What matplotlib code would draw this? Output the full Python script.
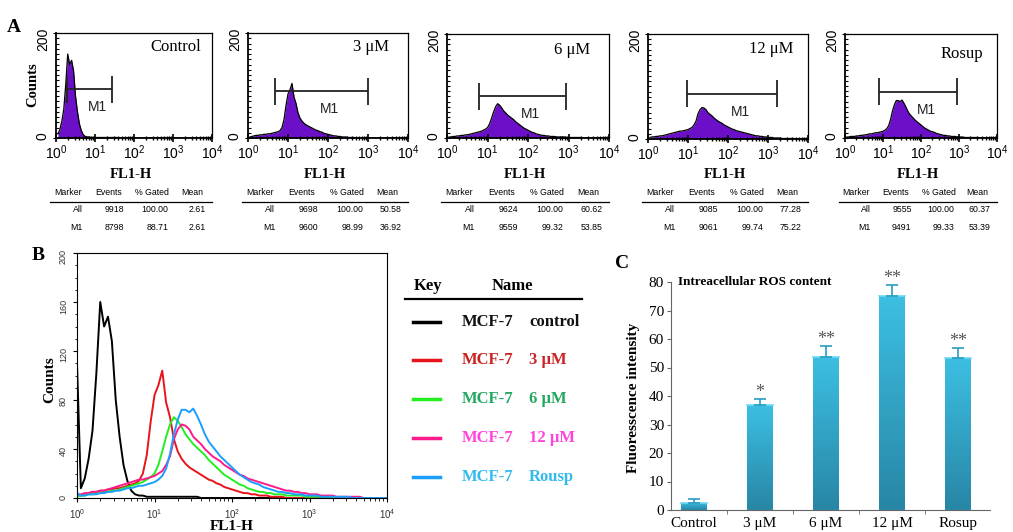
import numpy as np
import matplotlib
matplotlib.use('Agg')
import matplotlib.pyplot as plt
import matplotlib.ticker as tik
from matplotlib.lines import Line2D
from matplotlib.colors import LinearSegmentedColormap

plt.rcParams['font.family'] = 'Liberation Sans'
plt.rcParams['mathtext.fontset'] = 'custom'
plt.rcParams['mathtext.rm'] = 'Liberation Sans'
plt.rcParams['mathtext.it'] = 'Liberation Sans:italic'
plt.rcParams['mathtext.bf'] = 'Liberation Sans:bold'
SERIF = 'Liberation Serif'

#### data
# FL1-H channel position (decades), 0.05 decade steps
channel_log = np.linspace(0, 4, 81)

hist_control = [110, 8, 16, 32, 55, 102, 160, 140, 148, 128,
                80, 50, 27, 14, 6, 3, 2, 2, 1, 1,
                1, 1, 1, 1, 1, 1, 1, 1, 1, 1,
                1, 1, 0, 0, 0, 0, 0, 0, 0, 0,
                0, 0, 0, 0, 0, 0, 0, 0, 0, 0,
                0, 0, 0, 0, 0, 0, 0, 0, 0, 0,
                0, 0, 0, 0, 0, 0, 0, 0, 0, 0,
                0, 0, 0, 0, 0, 0, 0, 0, 0, 0,
                0]
hist_3um = [2, 2, 3, 4, 5, 5, 6, 6, 7, 7,
            8, 8, 9, 10, 11, 12, 14, 20, 35, 62,
            84, 92, 104, 78, 66, 48, 38, 32, 28, 25,
            23, 21, 19, 17, 15, 14, 12, 11, 9, 8,
            7, 6, 5, 4, 4, 3, 3, 2, 2, 2,
            1, 1, 1, 1, 0, 0, 0, 0, 0, 0,
            0, 0, 0, 0, 0, 0, 0, 0, 0, 0,
            0, 0, 0, 0, 0, 0, 0, 0, 0, 0,
            0]
hist_6um = [1, 2, 2, 3, 3, 4, 4, 5, 5, 6,
            6, 7, 8, 9, 10, 11, 12, 13, 15, 17,
            20, 27, 38, 50, 60, 66, 63, 58, 52, 48,
            44, 41, 38, 35, 31, 28, 25, 22, 19, 17,
            15, 13, 11, 10, 8, 7, 6, 5, 5, 4,
            4, 3, 3, 3, 2, 2, 2, 2, 2, 1,
            1, 1, 1, 1, 1, 1, 1, 0, 0, 0,
            0, 0, 0, 0, 0, 0, 0, 0, 0, 0,
            0]
hist_12um = [3, 3, 4, 4, 5, 5, 6, 6, 7, 8,
             9, 10, 11, 12, 13, 14, 15, 15, 16, 17,
             18, 20, 22, 27, 34, 48, 56, 60, 59, 56,
             50, 47, 44, 40, 37, 34, 32, 30, 27, 25,
             23, 21, 19, 18, 16, 15, 14, 13, 12, 11,
             10, 9, 8, 7, 6, 6, 5, 5, 4, 4,
             3, 3, 3, 2, 2, 2, 2, 1, 1, 1,
             1, 1, 1, 1, 0, 0, 0, 0, 0, 0,
             0]
hist_rosup = [4, 2, 2, 3, 3, 3, 4, 4, 5, 5,
              6, 6, 7, 8, 8, 9, 10, 10, 11, 12,
              13, 15, 18, 24, 36, 52, 64, 72, 72, 70,
              73, 67, 60, 52, 46, 42, 38, 34, 31, 28,
              25, 22, 19, 17, 15, 13, 12, 11, 9, 8,
              7, 6, 5, 5, 4, 4, 3, 3, 3, 2,
              2, 2, 2, 1, 1, 1, 1, 1, 1, 1,
              1, 0, 0, 0, 0, 0, 0, 0, 0, 0,
              0]

panel_names = ["Control", "3 \u03bcM", "6 \u03bcM", "12 \u03bcM", "Rosup"]
legend_names = ["control", "3 \u03bcM", "6 \u03bcM", "12 \u03bcM", "Rousp"]

# M1 gate (FL1-H) and height (counts)
gate_lo = [1.9, 4.7, 6.0, 9.5, 7.8]
gate_hi = [27.5, 1000, 890, 1660, 870]
gate_y = [93, 89, 80, 86, 89]

# statistics tables
events_all = ["9918", "9698", "9624", "9085", "9555"]
gated_all = ["100.00", "100.00", "100.00", "100.00", "100.00"]
mean_all = ["2.61", "50.58", "60.62", "77.28", "60.37"]
events_m1 = ["8798", "9600", "9559", "9061", "9491"]
gated_m1 = ["88.71", "98.99", "99.32", "99.74", "99.33"]
mean_m1 = ["2.61", "36.92", "53.85", "75.22", "53.39"]

# panel C
ros_labels = ["Control", "3 \u03bcM", "6 \u03bcM", "12 \u03bcM", "Rosup"]
ros_mean = [2.61, 36.92, 53.85, 75.22, 53.39]
ros_err = [1.2, 2.0, 3.6, 3.6, 3.4]
ros_sig = ["", "*", "**", "**", "**"]

hists = [hist_control, hist_3um, hist_6um, hist_12um, hist_rosup]
line_colors = ["#000000", "#e8141c", "#22ee22", "#ff1a8c", "#1a9fff"]
text_colors = ["#111111", "#cc2222", "#22a860", "#ff44dd", "#33bbee"]
decades = [1, 10, 100, 1000, 10000]

W, H = 1013, 532
def px(x0, y0, x1, y1):
    return [x0 / W, 1 - y1 / H, (x1 - x0) / W, (y1 - y0) / H]
def fx(x):
    return x / W
def fy(y):
    return 1 - y / H

fig = plt.figure(figsize=(W / 100, H / 100), dpi=100)

#### panel A
a_boxes = [(56, 33, 212, 138), (248, 33, 408, 138), (447, 34, 609, 138),
           (648, 34, 808, 139), (845, 34, 997, 138)]
label_y = [0.87, 0.87, 0.85, 0.86, 0.81]
purple = "#6b10c8"
x_all = 10 ** channel_log
for i, box in enumerate(a_boxes):
    ax = fig.add_axes(px(*box))
    y = np.array(hists[i][1:], dtype=float)
    x = x_all[1:]
    ax.fill_between(x, y, color=purple, lw=0, zorder=1)
    ax.plot(x, y, color='black', lw=0.9, zorder=2)
    ax.set_xscale('log')
    ax.set_xlim(1, 1e4)
    ax.set_ylim(0, 200)
    ax.set_xticks(decades)
    ax.xaxis.set_minor_locator(tik.LogLocator(base=10, subs=np.arange(2, 10), numticks=20))
    ax.xaxis.set_minor_formatter(tik.NullFormatter())
    ax.set_yticks([0, 200])
    ax.yaxis.set_minor_locator(tik.MultipleLocator(10))
    ax.tick_params(axis='y', which='major', labelrotation=90, labelsize=10,
                   direction='inout', length=5, pad=2)
    ax.tick_params(axis='y', which='minor', direction='in', length=2.5, width=0.8)
    ax.tick_params(axis='x', which='major', direction='inout', length=6,
                   width=1.2, labelsize=10, pad=1)
    ax.tick_params(axis='x', which='minor', direction='inout', length=3.5, width=1)
    for s in ['left', 'bottom']:
        ax.spines[s].set_linewidth(1.3)
    for s in ['top', 'right']:
        ax.spines[s].set_linewidth(0.9)
    ax.text(0.77, label_y[i], panel_names[i], transform=ax.transAxes,
            family=SERIF, size=12, ha='center', va='center')
    # gate
    lo, hi, gy = gate_lo[i], gate_hi[i], gate_y[i]
    ax.hlines(gy, lo, hi, color='#222222', lw=1.3, zorder=3)
    ax.vlines([lo, hi], gy - 26, gy + 26, color='#222222', lw=1.3, zorder=3)
    ax.annotate('M1', xy=(np.sqrt(lo * hi), gy), xytext=(6, -13),
                textcoords='offset points', ha='center', va='center',
                size=10, color='#222222', zorder=4)
    # x label
    x0, y0, x1, y1 = box
    fig.text(fx((x0 + x1) / 2 - 3), fy(175), 'FL1-H', family=SERIF,
             weight='bold', size=10.5, ha='center', va='center')
    # table
    t0, t1 = x0 - 6, x1
    tw = t1 - t0
    for frac, head in zip([0.11, 0.36, 0.63, 0.875],
                          ["Marker", "Events", "% Gated", "Mean"]):
        fig.text(fx(t0 + frac * tw), fy(193), head, size=6.3,
                 ha='center', va='center')
    fig.add_artist(Line2D([fx(t0), fx(t1)], [fy(202), fy(202)],
                          color='black', lw=0.9))
    rows = [("All", events_all[i], gated_all[i], mean_all[i]),
            ("M1", events_m1[i], gated_m1[i], mean_m1[i])]
    for ry, row in zip([210, 228], rows):
        for frac, val in zip([0.2, 0.46, 0.73, 0.96], row):
            fig.text(fx(t0 + frac * tw), fy(ry), val, size=6.3,
                     ha='right', va='center')
    if i == 0:
        fig.text(fx(33), fy(85), 'Counts', rotation=90, family=SERIF,
                 weight='bold', size=10.5, ha='center', va='center')

fig.text(fx(14), fy(28), 'A', family=SERIF, weight='bold', size=14,
         ha='center', va='center')

#### panel B
axB = fig.add_axes(px(77, 253, 387, 498))
for y, c in zip(hists, line_colors):
    axB.plot(x_all, y, color=c, lw=1.4)
axB.set_xscale('log')
axB.set_xlim(1, 1e4)
axB.set_ylim(0, 200)
axB.set_xticks(decades)
axB.xaxis.set_minor_locator(tik.LogLocator(base=10, subs=np.arange(2, 10), numticks=20))
axB.xaxis.set_minor_formatter(tik.NullFormatter())
axB.set_yticks(np.arange(0, 201, 40))
axB.yaxis.set_minor_locator(tik.MultipleLocator(10))
axB.tick_params(axis='y', which='major', labelrotation=90, labelsize=6.5,
                direction='out', length=3, labelcolor='#333333')
axB.tick_params(axis='y', which='minor', direction='out', length=1.5)
axB.tick_params(axis='x', which='major', labelsize=7, direction='out',
                length=3, labelcolor='#333333')
axB.tick_params(axis='x', which='minor', direction='out', length=2)
for s in axB.spines.values():
    s.set_linewidth(0.8)
fig.text(fx(50), fy(380), 'Counts', rotation=90, family=SERIF,
         weight='bold', size=11, ha='center', va='center')
fig.text(fx(232), fy(526), 'FL1-H', family=SERIF, weight='bold', size=11,
         ha='center', va='center')
fig.text(fx(38), fy(256), 'B', family=SERIF, weight='bold', size=14,
         ha='center', va='center')

#### legend
fig.text(fx(428), fy(286), 'Key', family=SERIF, weight='bold', size=12,
         ha='center', va='center')
fig.text(fx(512), fy(286), 'Name', family=SERIF, weight='bold', size=12,
         ha='center', va='center')
fig.add_artist(Line2D([fx(405), fx(582)], [fy(299), fy(299)],
                      color='black', lw=1.6))
for ry, lc, tc, nm in zip([322, 360, 399, 438, 477], line_colors,
                          text_colors, legend_names):
    fig.add_artist(Line2D([fx(413), fx(440)], [fy(ry), fy(ry)],
                          color=lc, lw=2.5))
    fig.text(fx(462), fy(ry), 'MCF-7', family=SERIF, weight='bold',
             size=12, color=tc, ha='left', va='center')
    fig.text(fx(529), fy(ry), nm, family=SERIF, weight='bold',
             size=12, color=tc, ha='left', va='center')

#### panel C
axC = fig.add_axes(px(671, 282, 990, 510))
xpos = np.arange(len(ros_labels))
bars = axC.bar(xpos, ros_mean, width=0.39, color='#33aacc', zorder=2)
bar_cmap = LinearSegmentedColormap.from_list('bar', ['#2886a6', '#3cbfe2'])
grad = np.linspace(0, 1, 64).reshape(-1, 1)
for b in bars:
    bx, bw, bh = b.get_x(), b.get_width(), b.get_height()
    im = axC.imshow(grad, extent=[bx, bx + bw, 0, bh], origin='lower',
                    cmap=bar_cmap, aspect='auto', zorder=3)
    im.set_clip_path(b)
    axC.plot([bx, bx + bw], [bh, bh], color='#6fd8f2', lw=1.2, zorder=4)
axC.errorbar(xpos, ros_mean, yerr=[np.zeros(len(ros_err)), ros_err],
             fmt='none', ecolor='#2a9cc0', elinewidth=1.2, capsize=4,
             capthick=1.2, zorder=5)
for xi, m, e, s in zip(xpos, ros_mean, ros_err, ros_sig):
    if s:
        axC.text(xi, m + e + 2.4, s, ha='center', va='center',
                 family=SERIF, size=13, color='#555555')
axC.set_xlim(-0.35, 4.485)
axC.set_ylim(0, 80)
axC.set_yticks(np.arange(0, 81, 10))
axC.set_xticks(xpos)
axC.set_xticklabels(ros_labels)
axC.set_xticks(xpos[:-1] + 0.5, minor=True)
axC.tick_params(axis='x', which='major', length=0, labelsize=11, pad=5)
axC.tick_params(axis='x', which='minor', length=3, direction='out',
                color='#666666')
axC.tick_params(axis='y', length=3, direction='out', labelsize=11,
                color='#666666', pad=2)
for lab in axC.get_xticklabels() + axC.get_yticklabels():
    lab.set_family(SERIF)
for s in ['top', 'right']:
    axC.spines[s].set_visible(False)
for s in ['left', 'bottom']:
    axC.spines[s].set_color('#666666')
    axC.spines[s].set_linewidth(0.8)
axC.text(0.022, 1.0, 'Intreacellular ROS content', transform=axC.transAxes,
         family=SERIF, weight='bold', size=9.5, ha='left', va='center')
fig.text(fx(633), fy(398), 'Fluoresscence intensity', rotation=90,
         family=SERIF, weight='bold', size=11, ha='center', va='center')
fig.text(fx(622), fy(263), 'C', family=SERIF, weight='bold', size=14,
         ha='center', va='center')

fig.savefig('out.png', dpi=100)
